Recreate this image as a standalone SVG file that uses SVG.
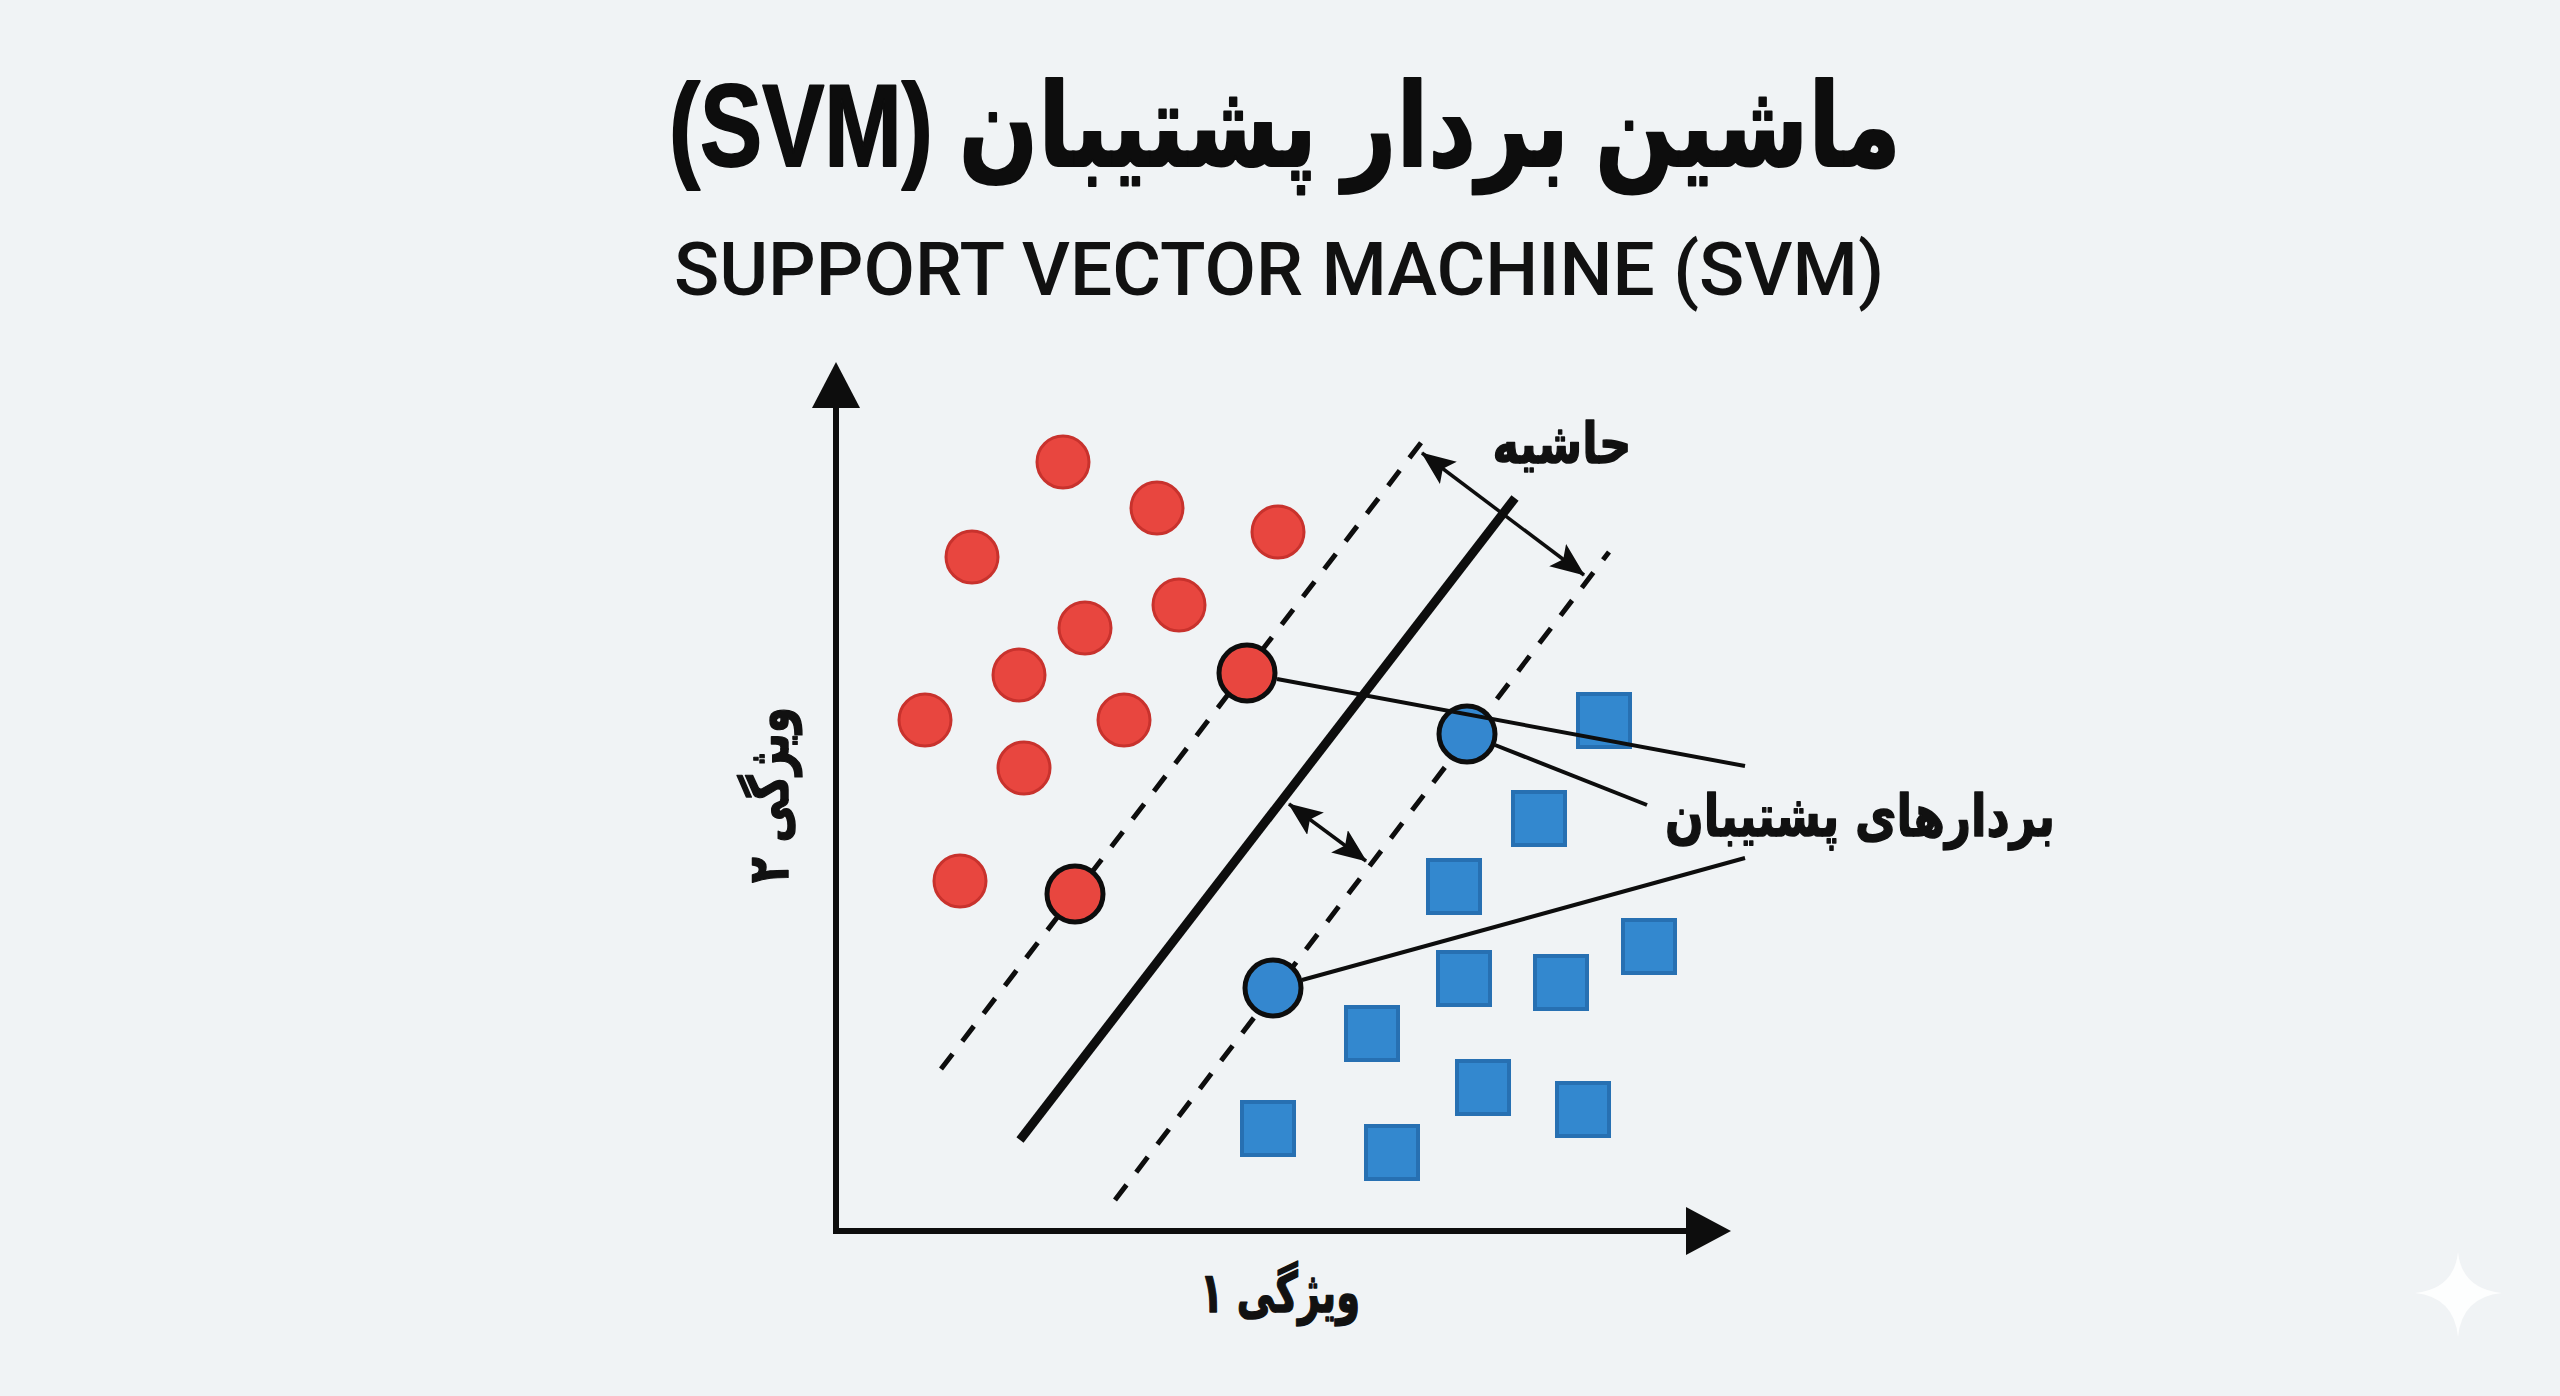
<svg xmlns="http://www.w3.org/2000/svg" width="2560" height="1396" viewBox="0 0 2560 1396">
<defs>
<style>
.title{font-family:"Liberation Sans","DejaVu Sans",sans-serif;font-weight:bold;fill:#0d0d0d;stroke:#0d0d0d;stroke-width:2;stroke-linejoin:round}
.sub{font-family:Roboto,"Liberation Sans",sans-serif;font-weight:500;fill:#111}
.fa{font-family:"DejaVu Sans",sans-serif;font-weight:bold;fill:#111;stroke:#111;stroke-width:1.5;stroke-linejoin:round}
.axis{fill:none;stroke:#0d0d0d;stroke-width:6;stroke-linejoin:miter}
.head{fill:#0d0d0d}
.hyper{stroke:#0d0d0d;stroke-width:9;stroke-linecap:butt}
.margin{stroke:#0d0d0d;stroke-width:5;stroke-dasharray:19 16}
.dim{stroke:#0d0d0d;stroke-width:3.5;fill:none}
.lead{stroke:#0d0d0d;stroke-width:4;fill:none}
.red{fill:#e8463f;stroke:#c8322d;stroke-width:3}
.redsv{fill:#e8463f;stroke:#0d0d0d;stroke-width:5}
.bluesv{fill:#3487cf;stroke:#0d0d0d;stroke-width:5}
.sq{fill:#3388cf;stroke:#2770b2;stroke-width:4}
</style>
<marker id="ah" viewBox="0 0 34 28" refX="33" refY="14" markerWidth="34" markerHeight="28" markerUnits="userSpaceOnUse" orient="auto-start-reverse">
<path d="M0,0 L34,14 L0,28 L7,14 Z" fill="#0d0d0d"/>
</marker>
</defs>
<rect x="0" y="0" width="2560" height="1396" fill="#f0f3f5"/>

<g id="title">
<text class="title" x="1285" y="166" font-size="116" text-anchor="middle" direction="rtl" textLength="1232" lengthAdjust="spacingAndGlyphs">ماشین بردار پشتیبان (SVM)</text>
</g>
<g id="subtitle">
<text class="sub" x="1279" y="295" font-size="74" text-anchor="middle" textLength="1210" lengthAdjust="spacingAndGlyphs">SUPPORT VECTOR MACHINE (SVM)</text>
</g>

<g id="axes">
<polyline class="axis" points="836,400 836,1231 1692,1231"/>
<polygon class="head" points="836,362 812,408 860,408"/>
<polygon class="head" points="1731,1231 1686,1207 1686,1255"/>
</g>

<g id="connectors">
<line class="margin" x1="941" y1="1069" x2="1427" y2="435"/>
<line class="margin" x1="1115" y1="1200" x2="1609" y2="552"/>
<line class="hyper" x1="1020" y1="1140" x2="1515" y2="498"/>
<line class="dim" x1="1422" y1="453" x2="1584" y2="575" marker-start="url(#ah)" marker-end="url(#ah)"/>
<line class="dim" x1="1289" y1="804" x2="1366" y2="861" marker-start="url(#ah)" marker-end="url(#ah)"/>
</g>

<g id="class-red">
<circle class="red" cx="1063" cy="462" r="26"/>
<circle class="red" cx="1157" cy="508" r="26"/>
<circle class="red" cx="1278" cy="532" r="26"/>
<circle class="red" cx="972" cy="557" r="26"/>
<circle class="red" cx="1179" cy="605" r="26"/>
<circle class="red" cx="1085" cy="628" r="26"/>
<circle class="red" cx="1019" cy="675" r="26"/>
<circle class="red" cx="925" cy="720" r="26"/>
<circle class="red" cx="1124" cy="720" r="26"/>
<circle class="red" cx="1024" cy="768" r="26"/>
<circle class="red" cx="960" cy="881" r="26"/>
</g>

<g id="class-blue">
<rect class="sq" x="1578" y="694" width="52" height="53"/>
<rect class="sq" x="1513" y="792" width="52" height="53"/>
<rect class="sq" x="1428" y="860" width="52" height="53"/>
<rect class="sq" x="1623" y="920" width="52" height="53"/>
<rect class="sq" x="1438" y="952" width="52" height="53"/>
<rect class="sq" x="1535" y="956" width="52" height="53"/>
<rect class="sq" x="1346" y="1007" width="52" height="53"/>
<rect class="sq" x="1457" y="1061" width="52" height="53"/>
<rect class="sq" x="1557" y="1083" width="52" height="53"/>
<rect class="sq" x="1242" y="1102" width="52" height="53"/>
<rect class="sq" x="1366" y="1126" width="52" height="53"/>
</g>

<g id="support-vectors">
<circle id="sv-red-1" class="redsv" cx="1247" cy="673" r="28"/>
<circle id="sv-red-2" class="redsv" cx="1075" cy="894" r="28"/>
<circle id="sv-blue-1" class="bluesv" cx="1467" cy="734" r="28"/>
<circle id="sv-blue-2" class="bluesv" cx="1273" cy="988" r="28"/>
</g>

<g id="leaders">
<line class="lead" x1="1277" y1="679" x2="1745" y2="766"/>
<line class="lead" x1="1495" y1="745" x2="1647" y2="805"/>
<line class="lead" x1="1302" y1="980" x2="1745" y2="858"/>
</g>

<g id="label-margin">
<text class="fa" x="1562" y="463" font-size="56" text-anchor="middle" direction="rtl" textLength="139" lengthAdjust="spacingAndGlyphs">حاشیه</text>
</g>
<g id="label-sv">
<text class="fa" x="1860" y="836" font-size="58" text-anchor="middle" direction="rtl" textLength="390" lengthAdjust="spacingAndGlyphs">بردارهای پشتیبان</text>
</g>
<g id="label-x">
<text class="fa" x="1280" y="1312" font-size="56" text-anchor="middle" direction="rtl" textLength="160" lengthAdjust="spacingAndGlyphs">ویژگی ۱</text>
</g>
<g id="label-y">
<text class="fa" transform="translate(788,795) rotate(-90)" x="0" y="0" font-size="56" text-anchor="middle" direction="rtl" textLength="176" lengthAdjust="spacingAndGlyphs">ویژگی ۲</text>
</g>

<path d="M2458,1252 Q2462,1289 2502,1293 Q2462,1297 2458,1337 Q2454,1297 2415,1293 Q2454,1289 2458,1252 Z" fill="#ffffff" opacity="0.85"/>
</svg>
